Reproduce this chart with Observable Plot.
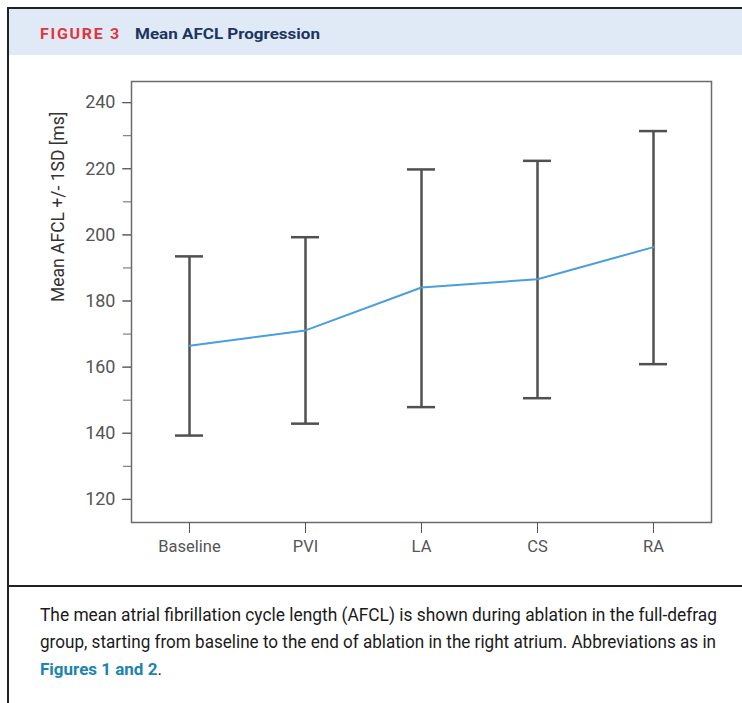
<!DOCTYPE html>
<html>
<head>
<meta charset="utf-8">
<script src="https://cdn.jsdelivr.net/npm/d3@7"></script>
<script src="https://cdn.jsdelivr.net/npm/@observablehq/plot@0.6"></script>
<style>
  html, body { margin: 0; padding: 0; background: #fff; }
  #page { position: relative; width: 742px; height: 703px; overflow: hidden; background: #fff; }
  #deco { position: absolute; left: 0; top: 0; }
  #chart { position: absolute; left: 0; top: 60px; }
  #chart svg { display: block; }
</style>
</head>
<body>
<div id="page">
  <svg id="deco" width="742" height="703" xmlns="http://www.w3.org/2000/svg" font-family="Roboto, 'Noto Sans', sans-serif">
    <rect x="9" y="9" width="733" height="46" fill="#dfeaf6"></rect>
    <rect x="7" y="7" width="735" height="2" fill="#222"></rect>
    <rect x="7" y="7" width="2" height="696" fill="#222"></rect>
    <rect x="7" y="585" width="735" height="2" fill="#222"></rect>
    <text x="40" y="39" font-size="15" font-weight="700" fill="#e4333d" letter-spacing="1.6" textLength="81" lengthAdjust="spacingAndGlyphs">FIGURE 3</text>
    <text x="135" y="39" font-size="15.5" font-weight="700" fill="#1b3560" textLength="185" lengthAdjust="spacingAndGlyphs">Mean AFCL Progression</text>
    <text x="40" y="621" font-size="17.5" fill="#1a1a1a" textLength="677" lengthAdjust="spacingAndGlyphs">The mean atrial fibrillation cycle length (AFCL) is shown during ablation in the full-defrag</text>
    <text x="40" y="648" font-size="17.5" fill="#1a1a1a" textLength="676" lengthAdjust="spacingAndGlyphs">group, starting from baseline to the end of ablation in the right atrium. Abbreviations as in</text>
    <text x="40" y="675" font-size="17" fill="#1a1a1a"><tspan font-weight="700" fill="#1c84b0">Figures 1 and 2</tspan>.</text>
  </svg>
  <div id="chart"></div>
</div>
<script>
const categories = ["Baseline", "PVI", "LA", "CS", "RA"];
const means = [166.5, 171.1, 184.1, 186.6, 196.3];
const upper = [193.5, 199.3, 219.8, 222.4, 231.4];
const lower = [139.3, 142.9, 147.9, 150.6, 160.9];
const majorTicks = [120, 140, 160, 180, 200, 220, 240];
const minorTicks = [120, 130, 140, 150, 160, 170, 180, 190, 200, 210, 220, 230, 240];
const yLabel = "Mean AFCL +/- 1SD [ms]";

const data = categories.map((c, i) => ({cat: c, mean: means[i], hi: upper[i], lo: lower[i]}));

const chart = Plot.plot({
  width: 742,
  height: 520,
  marginTop: 21,
  marginBottom: 58,
  marginLeft: 131,
  marginRight: 31,
  style: {fontFamily: "Roboto, 'Noto Sans', sans-serif", background: "transparent"},
  x: {type: "point", domain: categories, padding: 0.5},
  y: {domain: [113, 246.4]},
  marks: [
    Plot.frame({stroke: "#6b6b6b", strokeWidth: 1.5}),
    Plot.axisY({ticks: minorTicks, tickSize: 8, tickFormat: () => "", color: "#666", label: null}),
    Plot.axisY({ticks: majorTicks, tickSize: 9, tickPadding: 7, fontSize: 18, color: "#555", label: null}),
    Plot.axisX({tickSize: 11, tickPadding: 7, fontSize: 16.5, color: "#555", label: null}),
    Plot.ruleX(data, {x: "cat", y1: "lo", y2: "hi", stroke: "#505050", strokeWidth: 2.5}),
    Plot.ruleY(data, {y: "hi", x1: "cat", x2: "cat", insetLeft: -14, insetRight: -14, stroke: "#505050", strokeWidth: 2.5}),
    Plot.ruleY(data, {y: "lo", x1: "cat", x2: "cat", insetLeft: -14, insetRight: -14, stroke: "#505050", strokeWidth: 2.5}),
    Plot.line(data, {x: "cat", y: "mean", stroke: "#4a9edb", strokeWidth: 2}),
    Plot.text([yLabel], {frameAnchor: "left", rotate: -90, dx: -73, fontSize: 17.5, fill: "#333"})
  ]
});
document.getElementById("chart").appendChild(chart);
</script>
</body>
</html>
